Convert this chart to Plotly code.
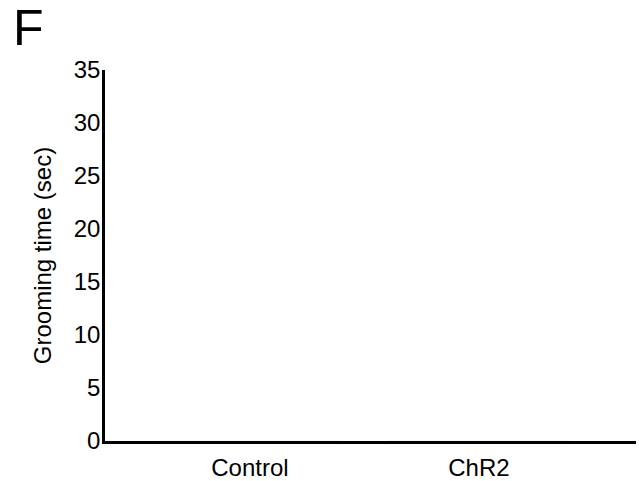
import plotly.graph_objects as go

categories = ["Control", "ChR2"]
grooming_time = [0, 0]
y_ticks = [0, 5, 10, 15, 20, 25, 30, 35]
y_title = "Grooming time (sec)"
panel_label = "F"

FONT = "Liberation Sans, Arial, Helvetica, sans-serif"

fig = go.Figure()
fig.add_trace(go.Bar(x=categories, y=grooming_time, marker_color="rgba(0,0,0,0)",
                     hoverinfo="skip", showlegend=False))

fig.update_layout(
    width=639, height=481,
    margin=dict(l=105, r=3, t=70, b=40, autoexpand=False),
    paper_bgcolor="white", plot_bgcolor="white",
    font=dict(family=FONT, color="black", size=24),
    showlegend=False,
)
fig.update_xaxes(
    type="category", range=[-0.633, 1.686], automargin=False,
    showline=True, linecolor="black", linewidth=2.5,
    showgrid=False, zeroline=False, ticks="",
    tickfont=dict(size=24, family=FONT, color="black"),
    ticklabelstandoff=3,
)
fig.update_yaxes(
    range=[0, 35], tickvals=y_ticks, ticktext=[str(v) for v in y_ticks],
    automargin=False,
    showline=True, linecolor="black", linewidth=2.5,
    showgrid=False, zeroline=False, ticks="",
    tickfont=dict(size=24, family=FONT, color="black"),
    ticklabelstandoff=-3,
    title=dict(text=y_title, font=dict(size=24, family=FONT, color="black"), standoff=16),
)
fig.add_annotation(text=panel_label, xref="paper", yref="paper",
                   x=(28 - 105) / 531, y=1 + (70 - 28) / 371,
                   xanchor="center", yanchor="middle",
                   showarrow=False, font=dict(size=50, family=FONT, color="black"))

fig.write_html("out.html", config={"displayModeBar": False})

with open("out.html", "r", encoding="utf-8") as f:
    html = f.read()
html = html.replace("<head>", "<head><style>html,body{margin:0;padding:0;overflow:hidden;}</style>", 1)
with open("out.html", "w", encoding="utf-8") as f:
    f.write(html)
